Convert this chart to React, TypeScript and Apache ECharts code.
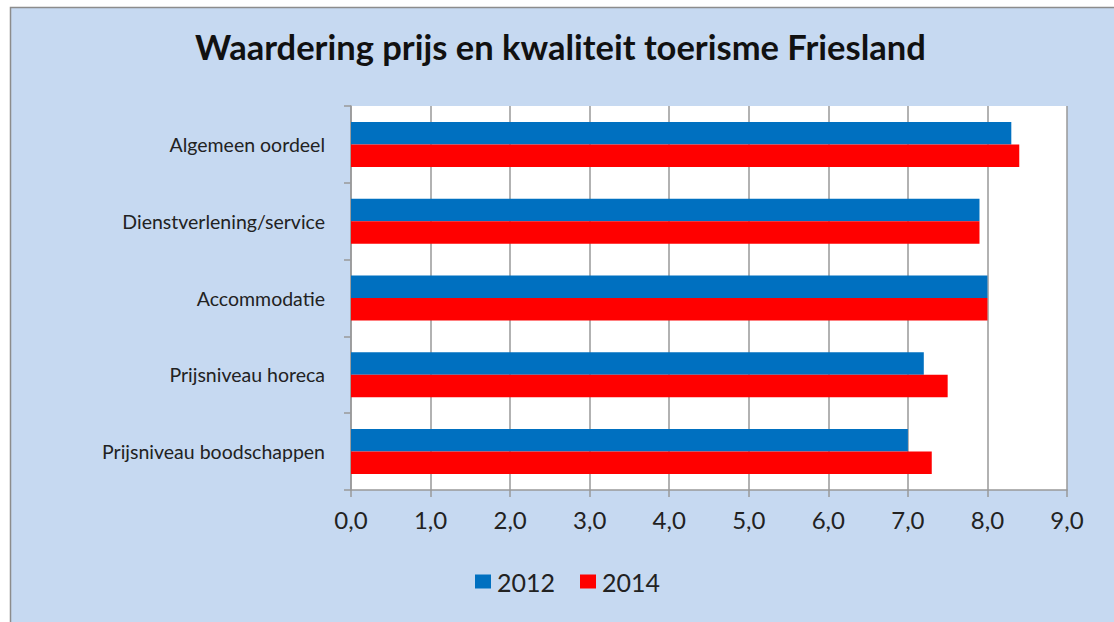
import React, { useEffect, useRef } from "react";
import * as echarts from "echarts";

const categories = [
  "Algemeen oordeel",
  "Dienstverlening/service",
  "Accommodatie",
  "Prijsniveau horeca",
  "Prijsniveau boodschappen",
];
const values2012 = [8.3, 7.9, 8.0, 7.2, 7.0];
const values2014 = [8.4, 7.9, 8.0, 7.5, 7.3];
const seriesNames = ["2012", "2014"];
const title = "Waardering prijs en kwaliteit toerisme Friesland";

export default function App() {
  const ref = useRef<HTMLDivElement>(null);
  useEffect(() => {
    if (!ref.current) return;
    const chart = echarts.init(ref.current, null, { renderer: "svg" });
    const font = "Lato, 'Open Sans', sans-serif";
    chart.setOption({
      animation: false,
      backgroundColor: "#ffffff",
      graphic: [
        {
          type: "rect",
          z: -10,
          silent: true,
          shape: { x: 10.5, y: 7.5, width: 1120, height: 630 },
          style: { fill: "#C6D9F1", stroke: "#8C8C8C", lineWidth: 1.5 },
        },
      ],
      title: {
        text: title,
        left: 190,
        top: 24,
        textStyle: { fontFamily: font, fontSize: 34.5, fontWeight: "bold", color: "#111" },
      },
      legend: {
        top: 564,
        left: 470,
        itemWidth: 16,
        itemHeight: 14,
        itemGap: 25,
        icon: "rect",
        textStyle: { fontFamily: font, fontSize: 25, color: "#222", padding: [0, 0, 0, 1] },
        data: seriesNames,
      },
      grid: { left: 351, right: 47, top: 106, bottom: 132, backgroundColor: "#ffffff", show: true, borderWidth: 0 },
      xAxis: {
        type: "value",
        min: 0,
        max: 9,
        interval: 1,
        axisLine: { show: true, lineStyle: { color: "#999", width: 1.5 } },
        axisTick: { show: true, length: 7, lineStyle: { color: "#999", width: 1.5 } },
        splitLine: { show: true, lineStyle: { color: "#999", width: 1.5 } },
        axisLabel: {
          fontFamily: font,
          fontSize: 24,
          color: "#222",
          margin: 17,
          formatter: (v: number) => v.toFixed(1).replace(".", ","),
        },
      },
      yAxis: {
        type: "category",
        inverse: true,
        data: categories,
        axisLine: { show: true, lineStyle: { color: "#999", width: 1.5 } },
        axisTick: { show: true, length: 7, lineStyle: { color: "#999", width: 1.5 } },
        axisLabel: {
          fontFamily: font,
          fontSize: 19.5,
          color: "#222",
          margin: 26,
        },
      },
      series: [
        {
          name: seriesNames[0],
          type: "bar",
          data: values2012,
          barWidth: 22.5,
          barGap: "0%",
          itemStyle: { color: "#0070C0" },
        },
        {
          name: seriesNames[1],
          type: "bar",
          data: values2014,
          barWidth: 22.5,
          barGap: "0%",
          itemStyle: { color: "#FF0000" },
        },
      ],
    });
    return () => chart.dispose();
  }, []);
  return (
    <div style={{ position: "absolute", left: 0, top: 0, width: 1114, height: 622 }}>
      <div ref={ref} style={{ width: 1114, height: 622 }} />
    </div>
  );
}
